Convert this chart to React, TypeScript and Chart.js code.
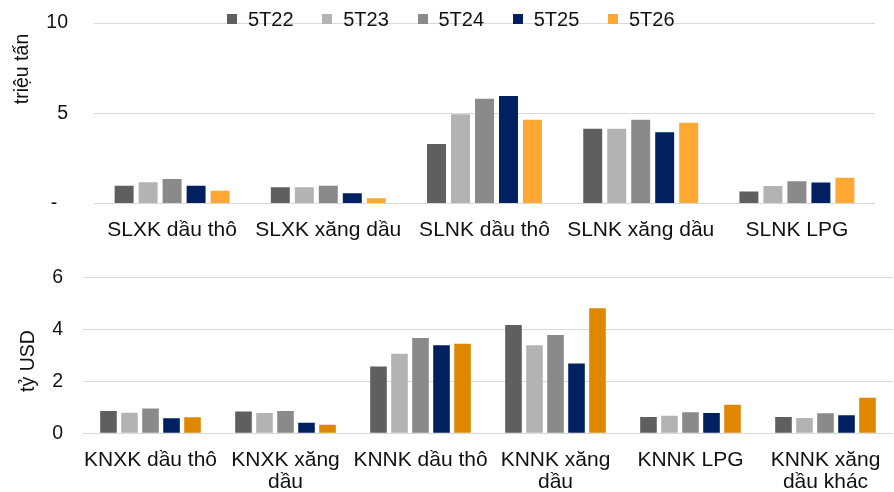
import React, { useEffect, useRef } from 'react';
import { Chart, registerables } from 'chart.js';

Chart.register(...registerables);

// ---------- data ----------
const seriesNames = ['5T22', '5T23', '5T24', '5T25', '5T26'];

const volCategories = ['SLXK dầu thô', 'SLXK xăng dầu', 'SLNK dầu thô', 'SLNK xăng dầu', 'SLNK LPG'];
const vol5T22 = [0.99, 0.9, 3.3, 4.14, 0.66];
const vol5T23 = [1.18, 0.9, 4.95, 4.14, 0.97];
const vol5T24 = [1.36, 0.99, 5.8, 4.64, 1.23];
const vol5T25 = [0.99, 0.57, 5.96, 3.95, 1.16];
const vol5T26 = [0.71, 0.29, 4.64, 4.47, 1.43];
const volTickMax = 10;
const volTickStep = 5;

const valCategories = [
  ['KNXK dầu thô'],
  ['KNXK xăng', 'dầu'],
  ['KNNK dầu thô'],
  ['KNNK xăng', 'dầu'],
  ['KNNK LPG'],
  ['KNNK xăng', 'dầu khác'],
];
const val5T22 = [0.86, 0.84, 2.58, 4.18, 0.63, 0.63];
const val5T23 = [0.79, 0.78, 3.07, 3.4, 0.68, 0.59];
const val5T24 = [0.96, 0.86, 3.67, 3.79, 0.81, 0.77];
const val5T25 = [0.58, 0.41, 3.4, 2.69, 0.78, 0.7];
const val5T26 = [0.62, 0.33, 3.45, 4.82, 1.1, 1.37];
const valTickMax = 6;
const valTickStep = 2;

const volTitle = 'triệu tấn';
const valTitle = 'tỷ USD';

// ---------- styles ----------
const FONT = '"Liberation Sans", Arial, Helvetica, sans-serif';
const TEXT = '#111111';
const GRID = '#d9d9d9';
const topColors = ['#5f5f5f', '#b3b3b3', '#8a8a8a', '#002060', '#ffa733'];
const bottomColors = ['#5f5f5f', '#b3b3b3', '#8a8a8a', '#002060', '#e08700'];

function axisTitlePlugin(text: string, x: number, y: number) {
  return {
    id: 'customAxisTitle',
    afterDraw(chart: any) {
      const ctx = chart.ctx;
      ctx.save();
      ctx.translate(x, y);
      ctx.rotate(-Math.PI / 2);
      ctx.font = `19.5px ${FONT}`;
      ctx.fillStyle = TEXT;
      ctx.textAlign = 'center';
      ctx.textBaseline = 'alphabetic';
      ctx.fillText(text, 0, 0);
      ctx.restore();
    },
  };
}

function makeConfig(opts: {
  labels: any[];
  series: number[][];
  colors: string[];
  max: number;
  step: number;
  zeroLabel: string;
  left: number;
  tickGap: number;
  plotTop: number;
  plotBottom: number;
  height: number;
  right: number;
  catPct: number;
  title: any;
}) {
  return {
    type: 'bar',
    data: {
      labels: opts.labels,
      datasets: opts.series.map((d, i) => ({
        label: seriesNames[i],
        data: d,
        backgroundColor: opts.colors[i],
        borderWidth: 0,
        categoryPercentage: opts.catPct,
        barPercentage: 0.79,
      })),
    },
    options: {
      animation: false,
      responsive: true,
      maintainAspectRatio: false,
      devicePixelRatio: 1,
      layout: { padding: { top: opts.plotTop, right: opts.right, left: 0, bottom: 0 } },
      plugins: { legend: { display: false }, tooltip: { enabled: false }, title: { display: false } },
      scales: {
        x: {
          grid: { display: false, drawTicks: false },
          border: { display: false },
          ticks: {
            color: TEXT,
            font: { family: FONT, size: 21, lineHeight: 1.04 },
            padding: 16,
            maxRotation: 0,
            autoSkip: false,
          },
          afterFit: (s: any) => {
            s.height = opts.height - opts.plotBottom;
            s.paddingLeft = 0;
            s.paddingRight = 0;
          },
        },
        y: {
          min: 0,
          max: opts.max,
          grid: { color: GRID, lineWidth: 1, drawTicks: false },
          border: { display: false },
          ticks: {
            stepSize: opts.step,
            color: TEXT,
            font: { family: FONT, size: 19.5 },
            padding: opts.tickGap,
            callback: (v: any) => (v === 0 ? opts.zeroLabel : String(v)),
          },
          afterFit: (s: any) => {
            s.width = opts.left;
            s.paddingTop = 0;
            s.paddingBottom = 0;
          },
        },
      },
    },
    plugins: [opts.title],
  };
}

function BarChart(props: { config: any; height: number }) {
  const ref = useRef<HTMLCanvasElement | null>(null);
  useEffect(() => {
    if (!ref.current) return;
    const chart = new Chart(ref.current, props.config);
    return () => chart.destroy();
  }, []);
  return (
    <div style={{ position: 'absolute', left: 0, top: 0, width: 894, height: props.height }}>
      <canvas ref={ref} />
    </div>
  );
}

export default function App() {
  const topConfig = makeConfig({
    labels: volCategories,
    series: [vol5T22, vol5T23, vol5T24, vol5T25, vol5T26],
    colors: topColors,
    max: volTickMax,
    step: volTickStep,
    zeroLabel: '-  ',
    left: 94,
    tickGap: 26,
    plotTop: 23,
    plotBottom: 203.5,
    height: 250,
    right: 19,
    catPct: 0.768,
    title: axisTitlePlugin(volTitle, 28, 69),
  });
  const bottomConfig = makeConfig({
    labels: valCategories,
    series: [val5T22, val5T23, val5T24, val5T25, val5T26],
    colors: bottomColors,
    max: valTickMax,
    step: valTickStep,
    zeroLabel: '0',
    left: 83,
    tickGap: 20,
    plotTop: 27.7,
    plotBottom: 183.3,
    height: 242,
    right: 1,
    catPct: 0.778,
    title: axisTitlePlugin(valTitle, 34, 111),
  });

  return (
    <div style={{ position: 'fixed', left: 0, top: 0, width: 894, height: 492, background: '#fff', overflow: 'hidden' }}>
      <div style={{ position: 'absolute', left: 0, top: 0, width: 894, height: 250 }}>
        <BarChart config={topConfig} height={250} />
        {seriesNames.map((name, i) => (
          <div
            key={name}
            style={{
              position: 'absolute',
              left: 227 + i * 95.25,
              top: 9,
              height: 20,
              display: 'flex',
              alignItems: 'center',
              fontFamily: FONT,
              fontSize: 20,
              lineHeight: '20px',
              color: TEXT,
              whiteSpace: 'nowrap',
            }}
          >
            <span style={{ display: 'inline-block', width: 10, height: 10, background: topColors[i], marginRight: 11 }} />
            <span>{name}</span>
          </div>
        ))}
      </div>
      <div style={{ position: 'absolute', left: 0, top: 250, width: 894, height: 242 }}>
        <BarChart config={bottomConfig} height={242} />
      </div>
    </div>
  );
}
